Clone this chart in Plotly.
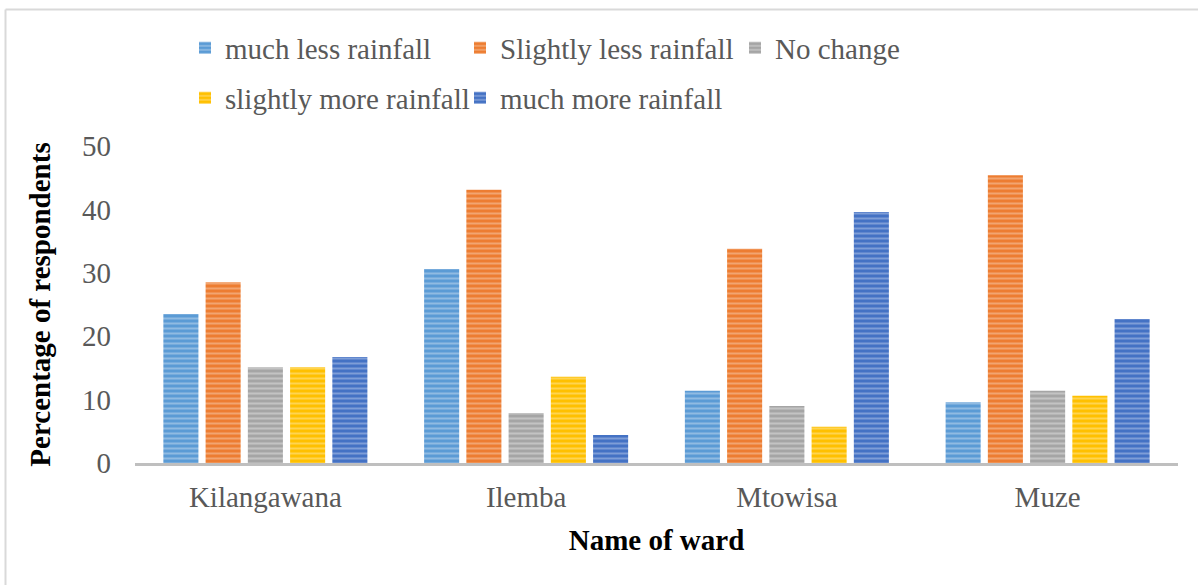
import plotly.graph_objects as go

wards = ["Kilangawana", "Ilemba", "Mtowisa", "Muze"]
series_names = ["much less rainfall", "Slightly less rainfall", "No change",
                "slightly more rainfall", "much more rainfall"]
much_less = [23.5, 30.6, 11.4, 9.6]
slightly_less = [28.5, 43.1, 33.8, 45.4]
no_change = [15.1, 7.9, 9.0, 11.4]
slightly_more = [15.1, 13.6, 5.7, 10.6]
much_more = [16.7, 4.4, 39.6, 22.7]
y_ticks = [0, 10, 20, 30, 40, 50]

values = [much_less, slightly_less, no_change, slightly_more, much_more]
colors = ["#5B9BD5", "#ED7D31", "#A5A5A5", "#FFC000", "#4472C4"]
light = ["#C6DCF0", "#F8CDB0", "#E2E2E2", "#FFE8A0", "#B8C9EA"]
legends = ["legend", "legend", "legend", "legend2", "legend2"]

font_family = "Liberation Serif, Times New Roman, serif"

L, R, T, B, W, H = 135, 20, 146, 122, 1198, 585
PW, PH = W - L - R, H - T - B


def px(x):
    return (x - L) / PW


def py(y):
    return (H - B - y) / PH


fig = go.Figure()
for name, vals, c, lc, lg in zip(series_names, values, colors, light, legends):
    fig.add_trace(go.Bar(
        x=wards, y=vals, name=name, legend=lg,
        marker=dict(color=c, line=dict(width=0),
                    pattern=dict(shape="-", bgcolor=c, fgcolor=lc,
                                 size=5, solidity=0.4, fillmode="overlay")),
    ))

leg_common = dict(orientation="h", xanchor="left", yanchor="middle",
                  font=dict(size=29, color="#595959"),
                  entrywidth=230, entrywidthmode="pixels",
                  itemwidth=30, tracegroupgap=0, bgcolor="rgba(0,0,0,0)")

fig.update_layout(
    width=W, height=H,
    paper_bgcolor="white", plot_bgcolor="white",
    margin=dict(l=L, r=R, t=T, b=B),
    barmode="group", bargap=0.19, bargroupgap=0.17,
    font=dict(family=font_family, color="#595959", size=29),
    legend=dict(x=px(185), y=py(48), **leg_common),
    legend2=dict(x=px(185), y=py(98), **leg_common),
    xaxis=dict(showline=True, linecolor="#BFBFBF", linewidth=3,
               showgrid=False, ticks="", ticklabelstandoff=6,
               tickfont=dict(size=29, color="#595959"),
               title=dict(text="<b>Name of ward</b>", font=dict(size=29, color="#000000"),
                          standoff=18)),
    yaxis=dict(range=[0, 50], tickvals=y_ticks, showgrid=False, showline=False,
               zeroline=False, ticks="", ticklabelstandoff=23,
               tickfont=dict(size=29, color="#595959"),
               title=dict(text="<b>Percentage of respondents</b>",
                          font=dict(size=29, color="#000000"), standoff=22)),
    shapes=[
        dict(type="line", xref="paper", yref="paper",
             x0=px(5.5), x1=px(5.5), y0=py(9.5), y1=py(590),
             line=dict(color="#D9D9D9", width=2)),
        dict(type="line", xref="paper", yref="paper",
             x0=px(5.5), x1=px(1200), y0=py(9.5), y1=py(9.5),
             line=dict(color="#D9D9D9", width=2)),
    ],
)

fig.write_html("out.html", config={"displayModeBar": False},
               post_script="document.body.style.margin='0px';")
